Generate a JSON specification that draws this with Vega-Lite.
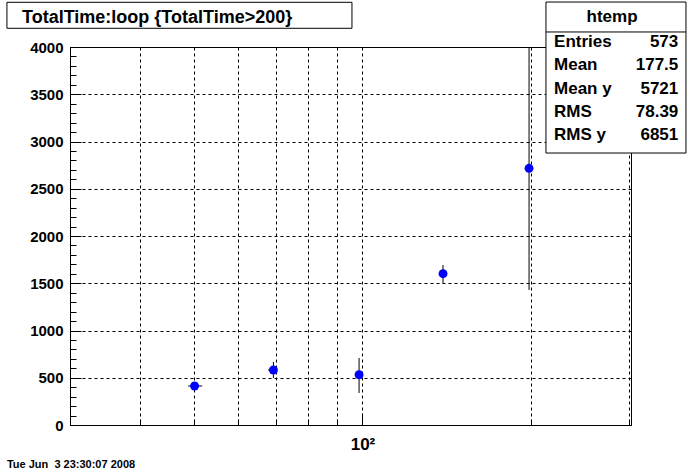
{
  "$schema": "https://vega.github.io/schema/vega-lite/v6.json",
  "width": 561,
  "height": 378,
  "autosize": "none",
  "padding": {"left": 70, "top": 47, "right": 69, "bottom": 48},
  "background": "white",
  "config": {
    "font": "Liberation Sans",
    "view": {"stroke": "black", "strokeWidth": 1}
  },
  "datasets": {
    "points": [
      {"x": 50.1, "y": 413, "lo": 400, "hi": 426, "xlo": 48.8, "xhi": 51.7},
      {"x": 69.3, "y": 582, "lo": 497, "hi": 667, "xlo": 67.8, "xhi": 70.3},
      {"x": 98.6, "y": 532, "lo": 339, "hi": 709},
      {"x": 139.3, "y": 1601, "lo": 1499, "hi": 1693},
      {"x": 198.5, "y": 2716, "lo": 1429, "hi": 4000}
    ]
  },
  "resolve": {"axis": {"x": "independent", "y": "independent"}},
  "layer": [
    {
      "data": {"name": "points"},
      "mark": {"type": "rule", "color": "black", "strokeWidth": 1},
      "encoding": {
        "x": {
          "field": "x", "type": "quantitative",
          "scale": {"type": "log", "domain": [30, 302], "nice": false},
          "axis": {
            "orient": "bottom",
            "values": [100],
            "labelExpr": "datum.value == 100 ? '10²' : ''",
            "grid": false,
            "domain": false,
            "ticks": true, "tickColor": "black", "tickSize": -12,
            "labelFont": "Liberation Sans", "labelFontWeight": "bold", "labelFontSize": 17, "labelColor": "black",
            "labelPadding": 23,
            "title": null
          }
        },
        "y": {
          "field": "lo", "type": "quantitative",
          "scale": {"domain": [0, 4000], "nice": false},
          "axis": {
            "orient": "left",
            "values": [0, 500, 1000, 1500, 2000, 2500, 3000, 3500, 4000],
            "format": "d",
            "grid": true, "gridDash": [3, 3], "gridColor": "black", "gridOpacity": 1, "gridWidth": 1,
            "domain": false,
            "tickSize": -11, "tickColor": "black",
            "labelFont": "Liberation Sans", "labelFontWeight": "bold", "labelFontSize": 15, "labelColor": "black",
            "labelPadding": 18,
            "title": null
          }
        },
        "y2": {"field": "hi"}
      }
    },
    {
      "data": {"name": "points"},
      "mark": {"type": "rule", "color": "black", "strokeWidth": 1},
      "encoding": {
        "x": {
          "field": "xlo", "type": "quantitative",
          "scale": {"type": "log", "domain": [30, 302], "nice": false},
          "axis": {
            "orient": "bottom",
            "values": [40, 50, 60, 70, 80, 90, 100, 200, 300],
            "labels": false,
            "grid": true, "gridDash": [3, 3], "gridColor": "black", "gridOpacity": 1, "gridWidth": 1,
            "domain": false,
            "ticks": true, "tickColor": "black", "tickSize": -6,
            "title": null
          }
        },
        "x2": {"field": "xhi"},
        "y": {
          "field": "y", "type": "quantitative",
          "scale": {"domain": [0, 4000], "nice": false},
          "axis": {
            "orient": "left",
            "values": [0,100,200,300,400,500,600,700,800,900,1000,1100,1200,1300,1400,1500,1600,1700,1800,1900,2000,2100,2200,2300,2400,2500,2600,2700,2800,2900,3000,3100,3200,3300,3400,3500,3600,3700,3800,3900,4000],
            "grid": false, "domain": false, "labels": false,
            "tickSize": -6, "tickColor": "black",
            "title": null
          }
        }
      }
    },
    {
      "data": {"name": "points"},
      "mark": {"type": "point", "filled": true, "shape": "circle", "color": "#0000ff", "size": 80, "opacity": 1},
      "encoding": {
        "x": {"field": "x", "type": "quantitative", "scale": {"type": "log", "domain": [30, 302], "nice": false}, "axis": null},
        "y": {"field": "y", "type": "quantitative", "scale": {"domain": [0, 4000], "nice": false}, "axis": null}
      }
    },
    {
      "data": {"values": [{}]},
      "mark": {"type": "rect", "fill": "white", "stroke": "black", "strokeWidth": 1},
      "encoding": {
        "x": {"datum": 23.14, "type": "quantitative", "scale": {"type": "log", "domain": [30, 302], "nice": false}, "axis": null},
        "x2": {"datum": 95.76},
        "y": {"datum": 4473, "type": "quantitative", "scale": {"domain": [0, 4000], "nice": false}, "axis": null},
        "y2": {"datum": 4198}
      }
    },
    {
      "data": {"values": [{"t": "TotalTime:loop {TotalTime>200}"}]},
      "mark": {"type": "text", "align": "left", "baseline": "alphabetic", "font": "Liberation Sans", "fontWeight": "bold", "fontSize": 18, "color": "black"},
      "encoding": {
        "x": {"datum": 24.62, "type": "quantitative", "scale": {"type": "log", "domain": [30, 302], "nice": false}, "axis": null},
        "y": {"datum": 4257, "type": "quantitative", "scale": {"domain": [0, 4000], "nice": false}, "axis": null},
        "text": {"field": "t"}
      }
    },
    {
      "data": {"values": [{}]},
      "mark": {"type": "rect", "fill": "white", "stroke": "black", "strokeWidth": 1},
      "encoding": {
        "x": {"datum": 212.8, "type": "quantitative", "scale": {"type": "log", "domain": [30, 302], "nice": false}, "axis": null},
        "x2": {"datum": 378.7},
        "y": {"datum": 4476, "type": "quantitative", "scale": {"domain": [0, 4000], "nice": false}, "axis": null},
        "y2": {"datum": 2878}
      }
    },
    {
      "data": {"values": [{}]},
      "mark": {"type": "rule", "color": "black", "strokeWidth": 1},
      "encoding": {
        "x": {"datum": 212.8, "type": "quantitative", "scale": {"type": "log", "domain": [30, 302], "nice": false}, "axis": null},
        "x2": {"datum": 378.7},
        "y": {"datum": 4159, "type": "quantitative", "scale": {"domain": [0, 4000], "nice": false}, "axis": null}
      }
    },
    {
      "data": {"values": [{"t": "htemp"}]},
      "mark": {"type": "text", "align": "center", "baseline": "alphabetic", "font": "Liberation Sans", "fontWeight": "bold", "fontSize": 17, "color": "black"},
      "encoding": {
        "x": {"datum": 279.3, "type": "quantitative", "scale": {"type": "log", "domain": [30, 302], "nice": false}, "axis": null},
        "y": {"datum": 4268, "type": "quantitative", "scale": {"domain": [0, 4000], "nice": false}, "axis": null},
        "text": {"field": "t"}
      }
    },
    {
      "data": {"values": [{}]},
      "mark": {"type": "text", "align": "left", "baseline": "alphabetic", "font": "Liberation Sans", "fontWeight": "bold", "fontSize": 17, "lineHeight": 23.4, "color": "black"},
      "encoding": {
        "x": {"datum": 220.0, "type": "quantitative", "scale": {"type": "log", "domain": [30, 302], "nice": false}, "axis": null},
        "y": {"datum": 4003, "type": "quantitative", "scale": {"domain": [0, 4000], "nice": false}, "axis": null},
        "text": {"value": ["Entries", "Mean", "Mean y", "RMS", "RMS y"]}
      }
    },
    {
      "data": {"values": [{}]},
      "mark": {"type": "text", "align": "right", "baseline": "alphabetic", "font": "Liberation Sans", "fontWeight": "bold", "fontSize": 17, "lineHeight": 23.4, "color": "black"},
      "encoding": {
        "x": {"datum": 366.9, "type": "quantitative", "scale": {"type": "log", "domain": [30, 302], "nice": false}, "axis": null},
        "y": {"datum": 4003, "type": "quantitative", "scale": {"domain": [0, 4000], "nice": false}, "axis": null},
        "text": {"value": ["573", "177.5", "5721", "78.39", "6851"]}
      }
    },
    {
      "data": {"values": [{"t": "Tue Jun\u00a0\u00a03 23:30:07 2008"}]},
      "mark": {"type": "text", "align": "left", "baseline": "alphabetic", "font": "Liberation Sans", "fontWeight": "bold", "fontSize": 11, "color": "black"},
      "encoding": {
        "x": {"datum": 23.14, "type": "quantitative", "scale": {"type": "log", "domain": [30, 302], "nice": false}, "axis": null},
        "y": {"datum": -455, "type": "quantitative", "scale": {"domain": [0, 4000], "nice": false}, "axis": null},
        "text": {"field": "t"}
      }
    }
  ]
}
